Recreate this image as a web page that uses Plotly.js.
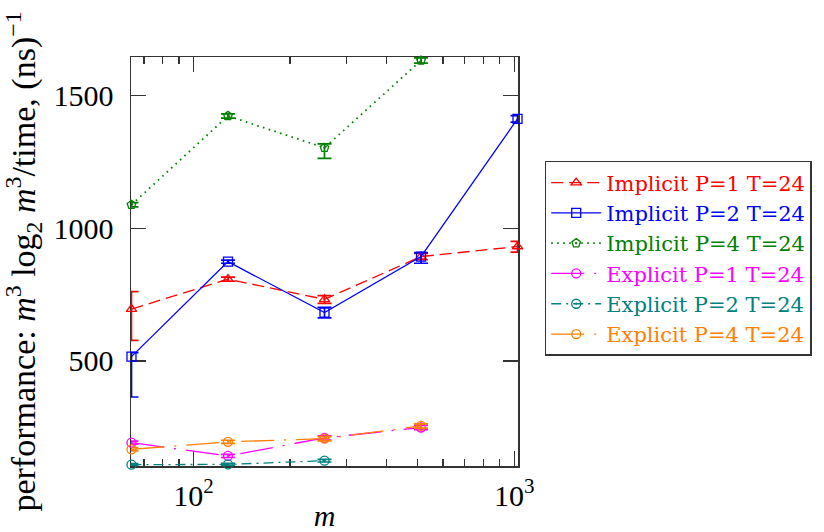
<!DOCTYPE html>
<html>
<head>
<meta charset="utf-8">
<script src="https://cdn.plot.ly/plotly-3.0.1.min.js"></script>
<style>html,body{margin:0;padding:0;background:#fff;}#chart{width:824px;height:532px;}</style>
</head>
<body>
<div id="chart"></div>
<script>
// ---- data ----
var mValues = [64, 128, 256, 512, 1024];

var implicitP1 = [695, 808, 732, 893, 931];
var implicitP1ErrPlus = [66, 8, 14, 12, 19];
var implicitP1ErrMinus = [118, 8, 15, 12, 21];

var implicitP2 = [516, 874, 682, 893, 1412];
var implicitP2ErrPlus = [15, 6, 20, 15, 12];
var implicitP2ErrMinus = [152, 6, 20, 25, 12];

var implicitP4 = [1088, 1423, 1303, 1632];
var implicitP4ErrPlus = [8, 8, 15, 10];
var implicitP4ErrMinus = [8, 8, 40, 10];

var explicitP1 = [192, 142, 210, 249];
var explicitP1Err = [6, 6, 8, 8];

var explicitP2 = [109, 110, 124];
var explicitP2Err = [4, 4, 5];

var explicitP4 = [167, 195, 207, 255];
var explicitP4Err = [6, 6, 8, 8];

var seriesNames = [
  "Implicit P=1 T=24", "Implicit P=2 T=24", "Implicit P=4 T=24",
  "Explicit P=1 T=24", "Explicit P=2 T=24", "Explicit P=4 T=24"
];
var xTickVals = [100, 1000];
var xTickText = ["10<sup>2</sup>", "10<sup>3</sup>"];
var xMinorVals = [70, 80, 90, 200, 300, 400, 500, 600, 700, 800, 900];
var yTickVals = [500, 1000, 1500];

// ---- styles ----
var colors = ["#ff0000", "#0000ff", "#008000", "#ff00ff", "#008080", "#ff8000"];
var dashes = ["12px,6px", "solid", "1.6px,4.4px", "33px,10px,2px,10px", "10px,5px,2px,5px", "33px,10px,2px,10px"];
var symbols = ["triangle-up-open", "square-open", "pentagon-open-dot", "circle-open", "circle-open-dot", "circle-open"];

function legendName(i) {
  return '<span style="color:' + colors[i] + '">' + seriesNames[i] + '</span>';
}

function mk(i, xs, ys, ep, em) {
  return {
    type: "scatter", mode: "lines+markers",
    x: xs, y: ys, name: legendName(i),
    line: {color: colors[i], width: i === 2 ? 1.8 : 1.3, dash: dashes[i]},
    marker: {symbol: symbols[i], size: 9, color: colors[i], line: {color: colors[i], width: 1.3}},
    error_y: {type: "data", symmetric: false, array: ep, arrayminus: em,
              color: colors[i], thickness: 1.7, width: 7},
    cliponaxis: false
  };
}

var traces = [
  mk(0, mValues, implicitP1, implicitP1ErrPlus, implicitP1ErrMinus),
  mk(1, mValues, implicitP2, implicitP2ErrPlus, implicitP2ErrMinus),
  mk(2, mValues.slice(0, 4), implicitP4, implicitP4ErrPlus, implicitP4ErrMinus),
  mk(3, mValues.slice(0, 4), explicitP1, explicitP1Err, explicitP1Err),
  mk(4, mValues.slice(0, 3), explicitP2, explicitP2Err, explicitP2Err),
  mk(5, mValues.slice(0, 4), explicitP4, explicitP4Err, explicitP4Err)
];

var font = "Liberation Serif, Times New Roman, serif";

var layout = {
  width: 824, height: 532,
  margin: {l: 131, r: 303, t: 57, b: 66},
  paper_bgcolor: "#fff", plot_bgcolor: "#fff",
  font: {family: font, color: "#000", size: 30},
  showlegend: true,
  xaxis: {
    type: "log",
    range: [Math.log10(64) - 0.0015, Math.log10(1024) + 0.0015],
    tickmode: "array", tickvals: xTickVals, ticktext: xTickText,
    ticks: "inside", ticklen: 15, tickwidth: 1.3, tickcolor: "#333",
    minor: {tickmode: "array", tickvals: xMinorVals, ticks: "inside", ticklen: 7, tickwidth: 1.3, tickcolor: "#333", showgrid: false},
    showline: true, linecolor: "#333", linewidth: 1.5, mirror: "ticks",
    showgrid: false, zeroline: false, layer: "below traces",
    tickfont: {size: 30, family: font},
    ticklabelstandoff: 2,
    title: {text: "<i>m</i>", font: {size: 30, family: font}, standoff: 2},
    automargin: false
  },
  yaxis: {
    range: [104, 1645],
    tickmode: "array", tickvals: yTickVals,
    ticks: "inside", ticklen: 15, tickwidth: 1.3, tickcolor: "#333",
    showline: true, linecolor: "#333", linewidth: 1.5, mirror: "ticks",
    showgrid: false, zeroline: false, layer: "below traces",
    tickfont: {size: 30, family: font},
    ticklabelstandoff: 10,
    title: {text: "performance: <i>m</i><sup>3</sup> log<sub>2</sub> <i>m</i><sup>3</sup>/time, (ns)<sup>−1</sup>",
            font: {size: 34, family: font}, standoff: 12},
    automargin: false
  },
  legend: {
    x: 1.069, y: 0.746, xanchor: "left", yanchor: "top",
    bordercolor: "#333", borderwidth: 1.5, bgcolor: "#fff",
    font: {size: 21, family: "DejaVu Serif, serif"},
    itemwidth: 50
  }
};

Plotly.newPlot("chart", traces, layout, {staticPlot: true, displayModeBar: false});
</script>
</body>
</html>
